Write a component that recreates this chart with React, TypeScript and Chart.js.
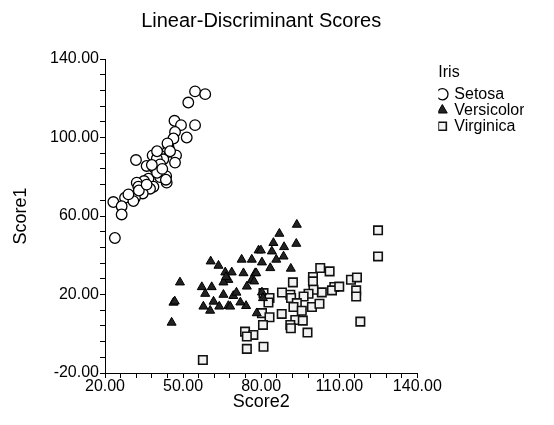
import React, { useEffect, useRef } from 'react';
import { Chart, registerables } from 'chart.js';
Chart.register(...registerables);

const FONT = "'Liberation Sans', Arial, Helvetica, sans-serif";

const seriesNames = ['Setosa', 'Versicolor', 'Virginica'];

const setosaX = [54.6, 58.5, 52, 46.7, 49.2, 54.6, 46.9, 51.4, 46.3, 44.4, 43.7, 47.3, 46.9, 31.9, 38.3, 41.2, 42.4, 39.9, 36, 38.9, 41.2, 43.5, 41.2, 43.7, 43.4, 36.7, 35, 32.2, 32.8, 38.6, 37.3, 34.5, 31.5, 27.7, 23.2, 26.4, 30.9, 26.4, 23.8, 40, 44, 33, 36, 40, 29, 42, 45, 38];
const setosaY = [123.5, 122.1, 117.8, 108.5, 106.3, 106.3, 102.8, 100, 99.5, 95.2, 92.3, 90.9, 87.2, 88.5, 90.9, 90.9, 88.9, 89.2, 85.5, 84.6, 86.3, 80.3, 79.8, 77, 78.5, 79, 77.8, 77, 74.9, 74.9, 73.9, 71.5, 69.3, 69.3, 67.1, 65, 67.6, 60.8, 48.8, 93, 97, 73, 76, 82, 71, 84, 93, 86];

const versicolorX = [48.8, 46.3, 45.6, 46.8, 57.2, 61, 58.5, 60.6, 63.6, 66.2, 68.7, 67.4, 65.5, 65.5, 69.3, 61.7, 57.8, 60.4, 63.9, 67.4, 72.5, 76.4, 73.2, 77.7, 76.4, 74.5, 79, 74.2, 78.3, 93.7, 87, 84.7, 93.5, 88.8, 79.9, 84.1, 88.6, 85.8, 80.3, 83.5, 91.4, 78.1, 77.3, 80.3, 80.7, 68.1, 70.5, 72, 66.5];
const versicolorY = [26.2, 15.9, 5.7, 16.5, 23.8, 23.8, 20.4, 36.9, 34.7, 31.3, 31.3, 27.5, 26.2, 19.9, 19.3, 16.4, 13.9, 11.8, 13.9, 14.2, 37.8, 37.8, 30.9, 30.9, 27.5, 24.1, 42.5, 14.2, 10.5, 55.6, 51, 46.3, 45.9, 44.2, 42.5, 42, 39.4, 37.8, 36.4, 33.5, 33.2, 30.9, 26.7, 21.1, 18.2, 13.9, 21, 16, 29];

const virginicaX = [57.6, 73.8, 77, 74.5, 74.5, 124.9, 124.9, 102.7, 106.3, 92.2, 99.9, 99.9, 114.5, 116.8, 108.1, 107.2, 103.3, 100.1, 98.2, 96.3, 116.5, 116.5, 91.2, 91.5, 93.7, 92.4, 95.6, 99.5, 102.4, 87.9, 93.1, 96, 91.2, 91.4, 97.8, 118.1, 80.3, 83.2, 80.7, 80.9, 80.9, 83.2, 82.8, 110, 88];
const virginicaY = [-13.4, 1.1, -0.6, -1.4, -7.7, 52.7, 39.4, 33.5, 31.8, 26.2, 28.9, 26.7, 27.5, 28.7, 23.8, 22.1, 21.1, 22.4, 20.4, 19, 22.1, 19, 19.9, 18.2, 15.6, 13.6, 11.7, 13.6, 15.3, 10.1, 7, 6.7, 4.5, 2.8, 0.6, 6.2, 10.5, 8.4, 4.5, -6.6, 20.7, 18.2, 15.9, 24, 21];

const xMajorTicks = [20, 50, 80, 110, 140];
const xMinorPerMajor = 5;
const yMajorTicks = [-20, 20, 60, 100, 140];
const yMinorPerMajor = 5;

function buildTicks(major: number[], per: number) {
  const out: number[] = [];
  for (let i = 0; i < major.length - 1; i++) {
    const step = (major[i + 1] - major[i]) / per;
    for (let j = 0; j < per; j++) out.push(major[i] + j * step);
  }
  out.push(major[major.length - 1]);
  return out;
}

export default function App() {
  const ref = useRef<HTMLCanvasElement>(null);
  useEffect(() => {
    const toPts = (xs: number[], ys: number[]) => xs.map((x, i) => ({ x, y: ys[i] }));
    const xTicks = buildTicks(xMajorTicks, xMinorPerMajor);
    const yTicks = buildTicks(yMajorTicks, yMinorPerMajor);
    const chart = new Chart(ref.current as HTMLCanvasElement, {
      type: 'scatter',
      data: {
        datasets: [
          {
            label: seriesNames[0],
            data: toPts(setosaX, setosaY),
            pointStyle: 'circle',
            pointRadius: 5.3,
            borderWidth: 1.3,
            borderColor: '#000',
            backgroundColor: '#fff',
          },
          {
            label: seriesNames[1],
            data: toPts(versicolorX, versicolorY),
            pointStyle: 'triangle',
            pointRadius: 5.2,
            borderWidth: 1,
            borderColor: '#000',
            backgroundColor: '#222',
          },
          {
            label: seriesNames[2],
            data: toPts(virginicaX, virginicaY),
            pointStyle: 'rect',
            pointRadius: 6,
            borderWidth: 1.6,
            borderColor: '#111',
            backgroundColor: '#f2f2f2',
          },
        ],
      },
      options: {
        animation: false,
        responsive: false,
        events: [],
        layout: { padding: { left: 10, right: 30, top: 5, bottom: 14 } },
        plugins: {
          title: {
            display: true,
            fullSize: false,
            text: 'Linear-Discriminant Scores',
            color: '#000',
            font: { family: FONT, size: 20, weight: 'normal' },
            padding: { top: 4, bottom: 26 },
          },
          legend: {
            position: 'right',
            align: 'start',
            fullSize: false,
            title: {
              display: true,
              text: 'Iris',
              color: '#000',
              position: 'start',
              font: { family: FONT, size: 16, weight: 'normal' },
              padding: { top: 6, bottom: 2 },
            },
            labels: {
              usePointStyle: true,
              color: '#000',
              boxWidth: 8,
              boxHeight: 8,
              padding: 0,
              font: { family: FONT, size: 16, weight: 'normal', lineHeight: 1 },
            },
          },
          tooltip: { enabled: false },
        },
        scales: {
          x: {
            type: 'linear',
            min: 20,
            max: 140,
            afterBuildTicks: (scale: any) => {
              scale.ticks = xTicks.map((v) => ({ value: v }));
            },
            ticks: {
              autoSkip: false,
              maxRotation: 0,
              color: '#000',
              padding: 1,
              font: { family: FONT, size: 16, lineHeight: 1 },
              callback: (v: any) => (xMajorTicks.includes(Number(v)) ? Number(v).toFixed(2) : ''),
            },
            grid: { drawOnChartArea: false, tickLength: 5, color: '#000', lineWidth: 1 },
            border: { color: '#000', width: 1 },
            title: {
              display: true,
              text: 'Score2',
              color: '#000',
              font: { family: FONT, size: 18, lineHeight: 1 },
              padding: { top: -3, bottom: 0 },
            },
          },
          y: {
            type: 'linear',
            min: -20,
            max: 140,
            afterBuildTicks: (scale: any) => {
              scale.ticks = yTicks.map((v) => ({ value: v }));
            },
            afterFit: (scale: any) => {
              scale.width = 95;
            },
            ticks: {
              autoSkip: false,
              color: '#000',
              padding: 1,
              font: { family: FONT, size: 16 },
              callback: (v: any) => (yMajorTicks.includes(Number(v)) ? Number(v).toFixed(2) : ''),
            },
            grid: { drawOnChartArea: false, tickLength: 5, color: '#000', lineWidth: 1 },
            border: { color: '#000', width: 1 },
            title: {
              display: true,
              text: 'Score1',
              color: '#000',
              font: { family: FONT, size: 18 },
              padding: { top: 0, bottom: 10 },
            },
          },
          gap: {
            type: 'linear',
            position: 'right',
            display: true,
            min: 0,
            max: 1,
            afterFit: (scale: any) => {
              scale.width = 21;
            },
            ticks: { display: false },
            grid: { display: false },
            border: { display: false },
          },
        },
      },
    });
    return () => chart.destroy();
  }, []);
  return (
    <div style={{ position: 'absolute', left: 0, top: 0, width: 554, height: 425, background: '#fff' }}>
      <canvas ref={ref} width={554} height={425} />
    </div>
  );
}
